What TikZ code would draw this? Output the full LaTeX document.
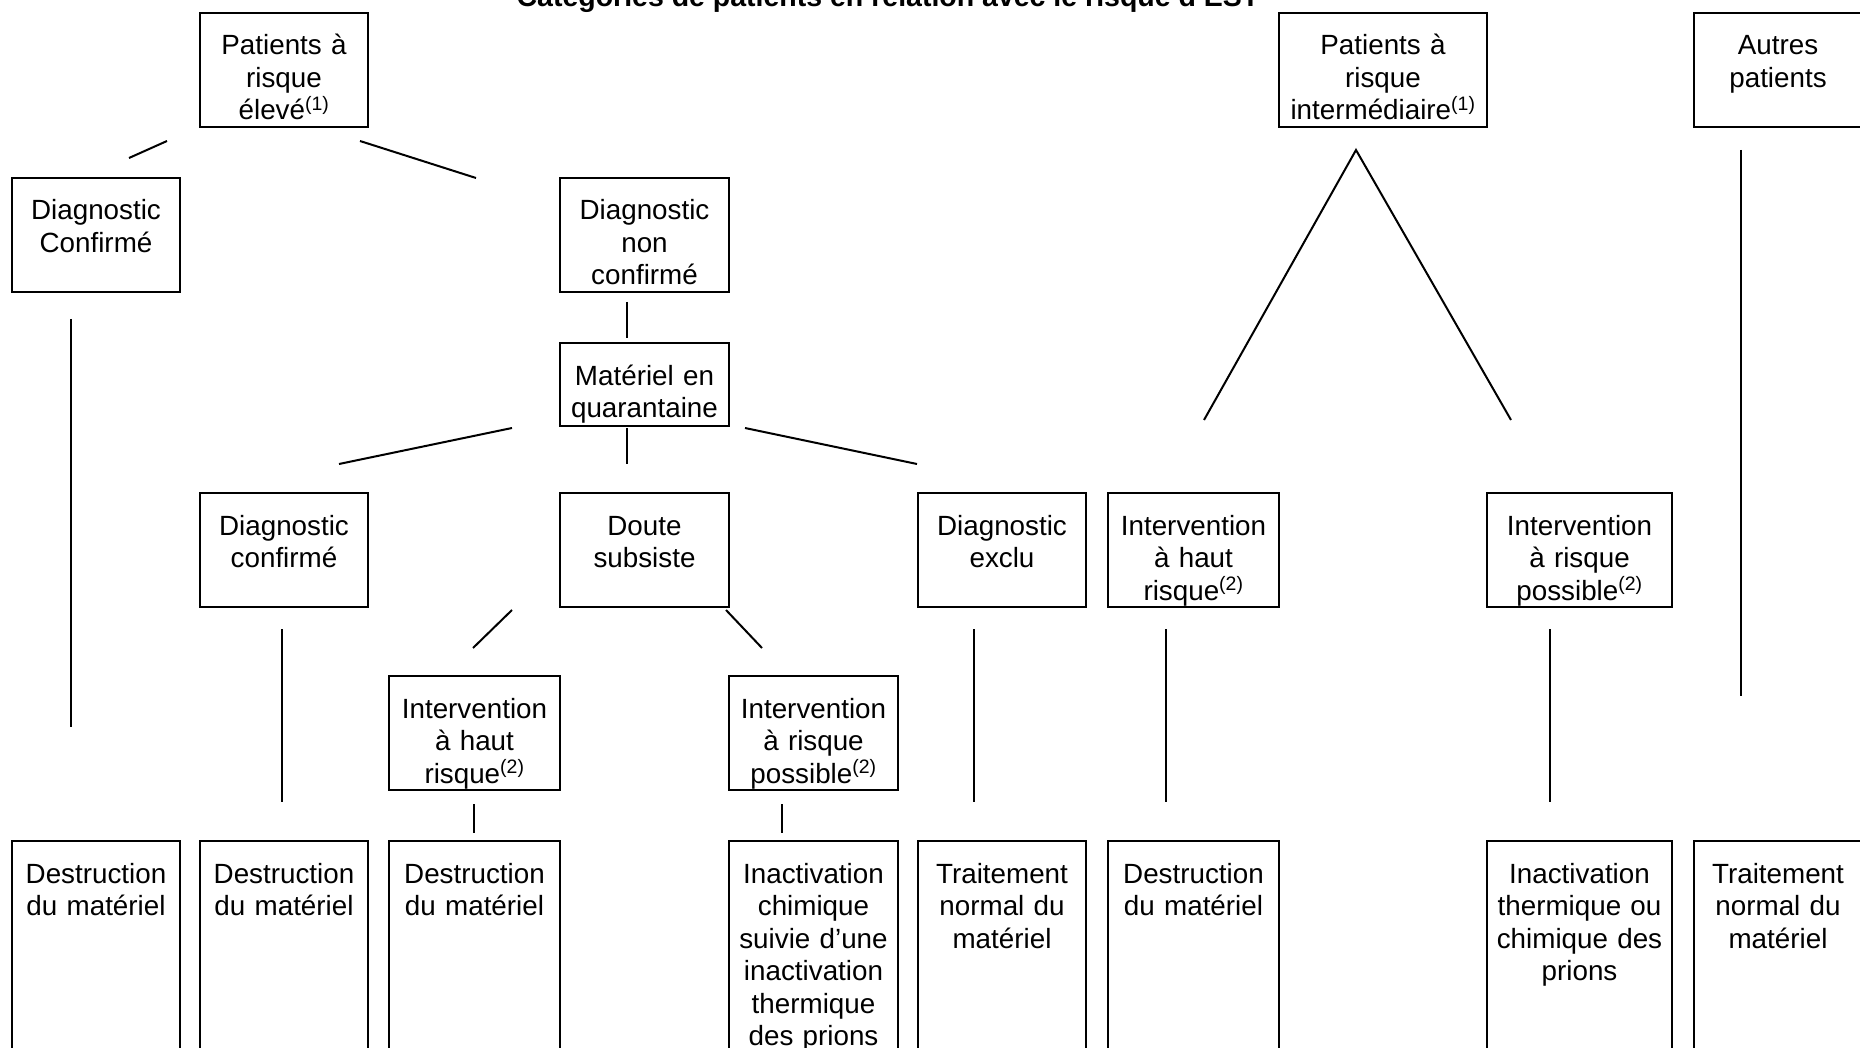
\documentclass[tikz,border=0pt]{standalone}
\usepackage{fontspec}
\setmainfont{Liberation Sans}
\newcommand{\rnote}[1]{\textsuperscript{(#1)}}

\begin{document}
\begin{tikzpicture}[x=1pt,y=-1pt,line width=2pt,
    cat/.style={draw, anchor=north west, align=center, inner xsep=4pt, inner ysep=0pt,
        text width=160pt, text height=42pt, text depth=72pt,
        font=\fontsize{27.8}{32.5}\selectfont},
    final/.style={cat, text depth=200pt}]
  \clip (0,0) rectangle (1860,1048);
  \node[anchor=base, font=\fontsize{28.5}{34}\selectfont\bfseries] (title) at (888,7)
      {Catégories de patients en relation avec le risque d’EST};

  % categories
  \node[cat] (elev) at (199,12) {Patients à\\risque\\élevé\rnote{1}};
  \node[cat, text width=200pt] (inter) at (1278,12) {Patients à\\risque\\intermédiaire\rnote{1}};
  \node[cat] (autres) at (1693,12) {Autres\\patients};

  % risque eleve
  \node[cat] (dconf1) at (11,177) {Diagnostic\\Confirmé};
  \node[cat, text width=161pt] (dnon) at (559,177) {Diagnostic\\non\\confirmé};
  \node[cat, text width=161pt, text depth=41pt] (quar) at (559,342) {Matériel en\\quarantaine};
  \node[cat] (dconf2) at (199,492) {Diagnostic\\confirmé};
  \node[cat, text width=161pt] (doute) at (559,492) {Doute\\subsiste};
  \node[cat] (dexcl) at (917,492) {Diagnostic\\exclu};
  \node[cat, text width=163pt] (ihaut1) at (388,675) {Intervention\\à haut\\risque\rnote{2}};
  \node[cat, text width=161pt] (iposs1) at (728,675) {Intervention\\à risque\\possible\rnote{2}};

  % risque intermediaire
  \node[cat, text width=163pt] (ihaut2) at (1107,492) {Intervention\\à haut\\risque\rnote{2}};
  \node[cat, text width=177pt] (iposs2) at (1486,492) {Intervention\\à risque\\possible\rnote{2}};

  % traitement du materiel
  \node[final] (dest1) at (11,840) {Destruction\\du matériel};
  \node[final] (dest2) at (199,840) {Destruction\\du matériel};
  \node[final, text width=163pt] (dest3) at (388,840) {Destruction\\du matériel};
  \node[final, text width=161pt] (inact1) at (728,840) {Inactivation\\chimique\\suivie d’une\\inactivation\\thermique\\des prions};
  \node[final] (trait1) at (917,840) {Traitement\\normal du\\matériel};
  \node[final, text width=163pt] (dest4) at (1107,840) {Destruction\\du matériel};
  \node[final, text width=177pt] (inact2) at (1486,840) {Inactivation\\thermique ou\\chimique des\\prions};
  \node[final] (trait2) at (1693,840) {Traitement\\normal du\\matériel};

  % liens
  \draw ([shift={(-32,13)}]elev.south west) -- ([shift={(33,-19)}]dconf1.north);
  \draw ([shift={(-9,13)}]elev.south east) -- ([shift={(-83,1)}]dnon.north west);
  \draw ([shift={(60,26)}]dconf1.south west) -- ([shift={(60,-113)}]dest1.north west);
  \draw ([shift={(68,9)}]dnon.south west) -- ([shift={(68,-4)}]quar.north west);
  \draw ([shift={(-47,1)}]quar.south west) -- ([shift={(140,-28)}]dconf2.north west);
  \draw ([shift={(68,1)}]quar.south west) -- ([shift={(68,-28)}]doute.north west);
  \draw ([shift={(15,1)}]quar.south east) -- ([shift={(0,-28)}]dexcl.north west);
  \draw ([shift={(83,21)}]dconf2.south west) -- ([shift={(83,-38)}]dest2.north west);
  \draw ([shift={(-47,2)}]doute.south west) -- ([shift={(85,-27)}]ihaut1.north west);
  \draw ([shift={(-4,2)}]doute.south east) -- ([shift={(34,-27)}]iposs1.north west);
  \draw ([shift={(86,13)}]ihaut1.south west) -- ([shift={(86,-7)}]dest3.north west);
  \draw ([shift={(54,13)}]iposs1.south west) -- ([shift={(54,-7)}]inact1.north west);
  \draw ([shift={(57,21)}]dexcl.south west) -- ([shift={(57,-38)}]trait1.north west);
  \draw ([shift={(97,-72)}]ihaut2.north west) -- ([shift={(78,22)}]inter.south west)
      -- ([shift={(25,-72)}]iposs2.north west);
  \draw ([shift={(59,21)}]ihaut2.south west) -- ([shift={(59,-38)}]dest4.north west);
  \draw ([shift={(64,21)}]iposs2.south west) -- ([shift={(64,-38)}]inact2.north west);
  \draw ([shift={(48,22)}]autres.south west) -- ([shift={(48,-144)}]trait2.north west);
\end{tikzpicture}
\end{document}
